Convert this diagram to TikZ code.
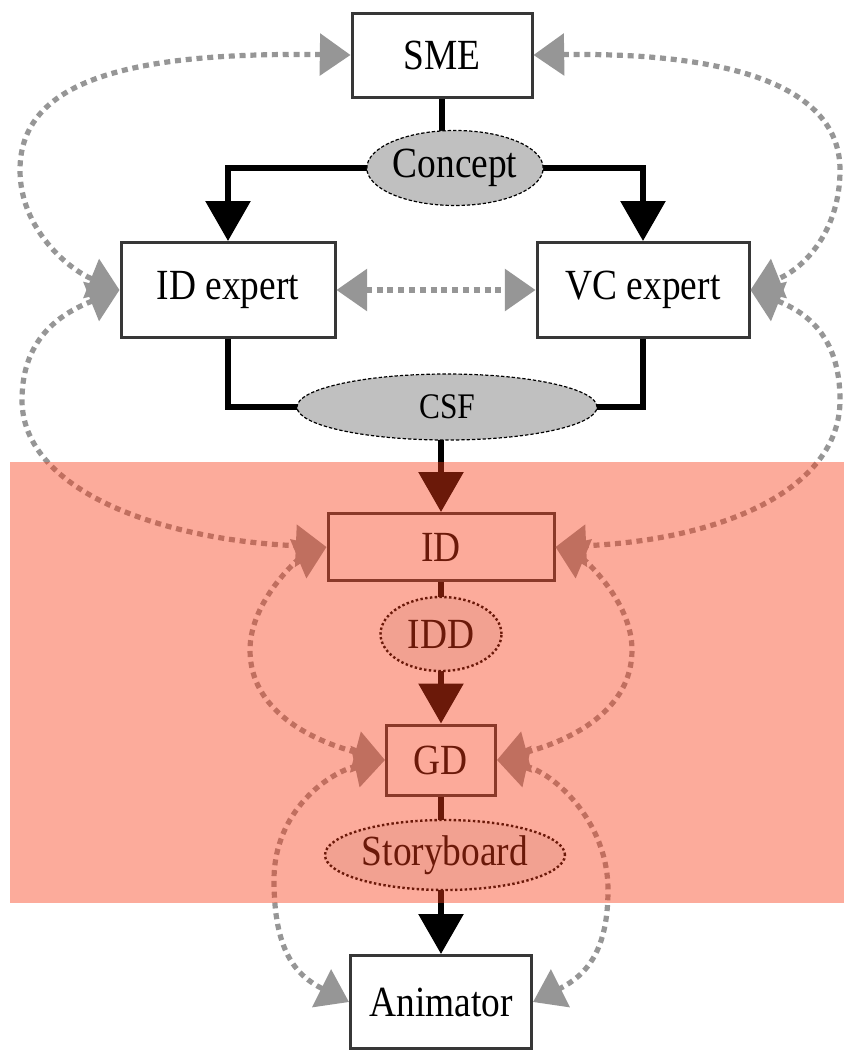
\documentclass[tikz,border=0pt]{standalone}
\usepackage{fontspec}
\setmainfont[FakeStretch=0.87]{Liberation Serif}
\usetikzlibrary{arrows.meta,shapes.geometric,backgrounds}
\definecolor{linkgray}{RGB}{150,150,150}
\definecolor{boxline}{RGB}{55,55,55}
\definecolor{tint}{RGB}{249,60,23}
\definecolor{bubblegray}{RGB}{192,192,192}
\definecolor{bubblelight}{RGB}{238,238,238}

\begin{document}
\begin{tikzpicture}[x=0.75pt,y=-0.75pt,
  box/.style={rectangle,draw=boxline,line width=2.25pt,fill=white,inner sep=0pt,
    font=\fontsize{32.25}{38}\selectfont},
  bubble/.style={ellipse,draw=black,line width=0.9pt,dash pattern=on 2.5pt off 1.5pt,
    fill=bubblegray,inner sep=0pt,font=\fontsize{32.25}{38}\selectfont},
  softbubble/.style={bubble,fill=bubblelight,line width=1.8pt,dash pattern=on 1.8pt off 1.8pt},
  stem/.style={draw=black,line width=4.5pt},
  flow/.style={stem,-{Triangle[length=30pt,width=33pt]}},
  link/.style={draw=linkgray,line width=3.9pt,dash pattern=on 4.5pt off 3.6pt,
    {Triangle[length=23pt,width=31pt]}-{Triangle[length=23pt,width=31pt]}}
]
\useasboundingbox (0,0) rectangle (844,1050);

% roles and the artefacts passed between them
\node[box,minimum width=135pt,minimum height=63pt] (SME) at (442,55) {SME};
\node[bubble,minimum width=112.5pt,minimum height=56.25pt] (Concept) at (455,168) {Concept};
\node[box,minimum width=160.5pt,minimum height=71.25pt] (IDexp) at (228,290) {ID expert};
\node[box,minimum width=159pt,minimum height=71.25pt] (VCexp) at (643,290) {VC expert};
\node[bubble,minimum width=225pt,minimum height=49.5pt,font=\fontsize{27}{32}\selectfont] (CSF) at (447,407) {CSF};
\node[box,minimum width=169.5pt,minimum height=50.25pt] (ID) at (441,547) {ID};
\node[softbubble,minimum width=90.75pt,minimum height=55.5pt] (IDD) at (441,634) {IDD};
\node[box,minimum width=81.75pt,minimum height=52.5pt] (GD) at (441,760) {GD};
\node[softbubble,minimum width=180pt,minimum height=52.5pt] (Story) at (445,855) {Storyboard};
\node[box,minimum width=135.75pt,minimum height=69.75pt] (Anim) at (441,1002) {Animator};

% main production flow
\begin{pgfonlayer}{background}
  \draw[stem] (SME.south) -- (SME.south |- Concept.center);
  \draw[flow] (Concept.center) -| (IDexp.north);
  \draw[flow] (Concept.center) -| (VCexp.north);
  \draw[stem] (IDexp.south) |- (CSF.center);
  \draw[stem] (VCexp.south) |- (CSF.center);
  \draw[flow] (ID.north |- CSF.center) -- (ID.north);
  \draw[stem] (ID.south) -- (IDD.center);
  \draw[flow] (IDD.center) -- (GD.north);
  \draw[stem] (GD.south) -- (GD.south |- Story.center);
  \draw[flow] (Anim.north |- Story.center) -- (Anim.north);
\end{pgfonlayer}

% two-way communication between roles
\draw[link] (SME.west) .. controls (130,52) and (20,80) .. (20,170)
  .. controls (20,230) and (70,270) .. (IDexp.west);
\draw[link] (SME.east) .. controls (740,52) and (840,90) .. (840,170)
  .. controls (840,230) and (805,268) .. (VCexp.east);
\draw[link] (IDexp.east) -- (VCexp.west);
\draw[link] (IDexp.west) .. controls (65,312) and (22,335) .. (22,400)
  .. controls (22,490) and (160,540) .. (ID.west);
\draw[link] (VCexp.east) .. controls (805,312) and (840,335) .. (840,400)
  .. controls (840,490) and (720,540) .. (ID.east);
\draw[link] (ID.west) .. controls (300,558) and (250,600) .. (250,650)
  .. controls (250,710) and (310,740) .. (GD.west);
\draw[link] (ID.east) .. controls (582,558) and (632,600) .. (632,650)
  .. controls (632,710) and (572,740) .. (GD.east);
\draw[link] (GD.west) .. controls (330,772) and (274,810) .. (274,880)
  .. controls (274,950) and (295,975) .. (Anim.west);
\draw[link] (GD.east) .. controls (552,772) and (608,820) .. (608,890)
  .. controls (608,950) and (587,975) .. (Anim.east);

% highlighted band laid over the design stage
\fill[tint,opacity=0.43] (10,462) rectangle (844,903);
\end{tikzpicture}
\end{document}
